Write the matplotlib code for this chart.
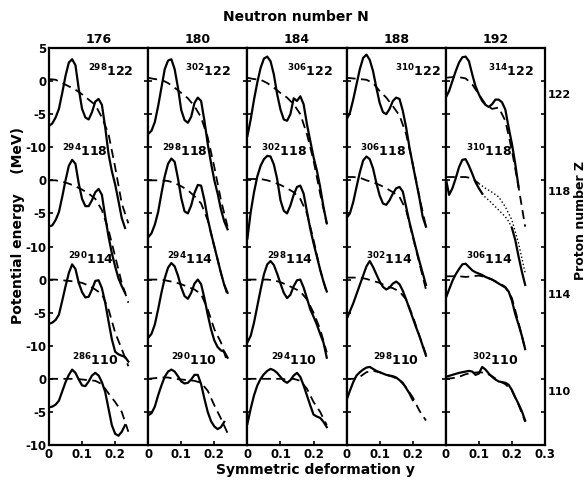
"""
Potential energy vs symmetric deformation for superheavy nuclei,
grid of panels: columns = neutron number N, rows = proton number Z.
"""
import numpy as np
import matplotlib
matplotlib.use("Agg")
import matplotlib.pyplot as plt

nan = np.nan

# --- data ---
neutrons = [176, 180, 184, 188, 192]
protons = [122, 118, 114, 110]
row_offset = {122: 45, 118: 30, 114: 15, 110: 0}   # MeV shift of each row

gamma_fine = np.round(np.arange(0, 0.245, 0.01), 2)     # solid curves
gamma_coarse = np.round(np.arange(0, 0.245, 0.02), 2)   # dashed curves

solid_122 = [
    [-6.8, -6.4, -5.5, -4.2, -1.8, 0.8, 2.8, 3.3, 2.4, -1.2, -4.2, -5.5, -5.8, -4.7, -3.1, -2.7, -3.6, -7.0, -11.0, -13.6, -15.6, -18.1, -20.7, -22.2, nan],
    [-8.0, -7.5, -6.2, -3.8, -1.0, 1.8, 3.1, 3.3, 1.8, -1.0, -4.4, -5.9, -6.3, -5.4, -3.3, -2.5, -3.0, -6.0, -9.5, -12.4, -15.0, -17.0, -19.4, -21.2, -22.4],
    [-8.3, -5.8, -2.8, -0.2, 2.0, 3.4, 3.7, 3.0, 1.0, -2.0, -4.3, -5.8, -6.0, -5.0, -2.6, -3.0, -2.3, -3.5, -6.5, -9.0, -11.5, -13.5, -16.0, -19.0, -21.5],
    [-5.8, -4.8, -2.8, -0.5, 1.8, 3.5, 4.0, 3.2, 1.5, -1.0, -3.3, -4.7, -5.0, -4.2, -3.0, -2.5, -2.7, -4.5, -7.0, -10.0, -12.6, -15.1, -17.6, -20.5, -22.0],
    [-2.5, -1.5, 0.0, 1.5, 2.8, 3.6, 3.7, 3.0, 1.0, -0.8, -2.0, -3.0, -3.6, -3.9, -3.5, -2.8, -2.8, -3.2, -4.3, -7.0, -9.5, -12.5, -16.0, nan, nan],
]
dash_122 = [
    [0.3, 0.2, -0.3, -0.8, -1.3, -2.0, -2.8, -3.6, -5.5, -8.0, -13.0, -18.5, -21.5],
    [0.5, 0.3, 0.2, -0.3, -1.0, -1.8, -2.6, -3.8, -5.5, -8.5, -13.0, -18.0, -22.0],
    [0.5, 0.3, 0.2, -0.3, -1.0, -1.8, -2.5, -3.5, -5.0, -8.0, -12.0, -17.0, -21.5],
    [0.5, 0.4, 0.3, 0.2, -0.3, -1.5, -2.5, -3.8, -5.2, -8.0, -12.5, -17.5, -22.0],
    [0.5, 0.6, 0.6, 0.4, -0.5, -2.0, -3.5, -4.2, -4.0, -6.0, -10.5, -16.0, -22.0],
]

solid_118 = [
    [-7.0, -6.8, -6.0, -4.8, -2.5, 0.0, 2.2, 3.1, 2.5, -0.5, -2.8, -3.9, -3.9, -3.0, -1.8, -1.3, -2.2, -5.5, -8.5, -11.0, -13.0, -14.8, -16.0, -17.0, nan],
    [-8.6, -8.0, -6.7, -4.8, -2.0, 0.6, 2.5, 3.3, 2.8, 0.3, -2.7, -4.7, -5.0, -3.8, -1.9, -0.7, -0.8, -3.0, -5.8, -8.0, -10.0, -12.0, -14.0, -15.8, -17.0],
    [-8.8, -4.8, -1.8, 0.6, 2.2, 3.2, 3.7, 3.6, 2.4, 0.2, -3.0, -4.6, -5.0, -3.8, -2.2, -1.0, -0.8, -2.0, -4.7, -7.3, -9.5, -11.5, -13.5, -15.3, -16.8],
    [-5.7, -5.0, -3.3, -1.0, 1.2, 3.0, 3.6, 3.2, 1.8, -0.4, -2.3, -3.5, -3.7, -3.0, -2.0, -1.2, -1.0, -1.7, -4.0, -6.3, -8.3, -10.3, -12.2, -14.0, -15.8],
    [0.3, -2.2, -1.2, 0.3, 2.0, 3.1, 3.2, 2.2, 1.0, -0.3, -1.2, -2.0, -2.6, -3.0, -3.5, -4.0, -4.5, -5.0, -5.5, -6.2, -7.2, -9.0, -11.5, -13.8, -15.8],
]
dash_118 = [
    [0.0, 0.0, -0.2, -0.5, -0.9, -1.4, -2.0, -2.8, -4.5, -7.5, -11.5, -15.5, -18.5],
    [0.0, 0.0, 0.0, -0.1, -0.4, -0.9, -1.5, -2.4, -3.5, -6.0, -10.0, -14.0, -17.5],
    [0.2, 0.2, 0.2, 0.0, -0.3, -0.7, -1.2, -1.8, -2.8, -5.0, -9.0, -13.5, -17.0],
    [0.5, 0.5, 0.4, 0.0, -0.3, -0.7, -1.2, -1.8, -2.5, -4.5, -8.5, -12.5, -16.5],
    [0.5, 0.5, 0.5, 0.5, 0.3, -0.5, -1.2, -1.8, -2.5, -4.0, -6.0, -9.5, -14.0],
]

solid_114 = [
    [-6.7, -6.5, -6.1, -5.3, -3.2, -1.0, 1.0, 2.3, 1.6, -0.5, -1.9, -2.7, -2.6, -1.5, -0.2, -0.1, -1.3, -3.5, -6.3, -9.0, -10.9, -11.3, -11.5, -11.7, -12.4],
    [-8.8, -8.2, -6.8, -4.5, -2.0, 0.2, 1.8, 2.5, 2.0, 0.6, -1.2, -2.5, -2.9, -2.0, -0.6, 0.0, -0.7, -2.8, -5.3, -7.5, -9.2, -10.2, -10.7, -10.9, -11.8],
    [-9.5, -8.5, -6.5, -4.0, -1.5, 0.8, 2.3, 2.8, 2.2, 0.9, -0.6, -2.0, -2.8, -2.3, -1.0, -0.1, 0.0, -1.2, -2.8, -4.5, -5.6, -6.8, -8.2, -9.5, -11.8],
    [-6.0, -4.8, -3.6, -2.2, -0.8, 0.6, 2.0, 2.8, 1.9, 0.8, -0.3, -1.1, -1.5, -1.2, -0.6, -0.3, -0.7, -1.7, -3.0, -4.4, -5.8, -7.2, -8.5, -10.0, -11.5],
    [-2.8, -1.5, -0.2, 0.8, 1.6, 2.3, 2.4, 1.9, 1.4, 1.1, 0.9, 0.7, 0.4, 0.2, 0.0, -0.3, -0.6, -0.9, -1.2, -1.8, -3.2, -5.2, -6.8, -8.5, -10.5],
]
dash_114 = [
    [0.0, 0.0, -0.1, -0.2, -0.3, -0.5, -0.9, -1.5, -2.2, -4.5, -8.0, -10.5, -13.1],
    [0.0, 0.0, 0.0, -0.2, -0.4, -0.7, -1.1, -1.5, -2.2, -4.5, -7.5, -9.5, -12.6],
    [0.0, 0.0, 0.0, 0.0, -0.1, -0.4, -0.8, -1.3, -1.8, -3.0, -5.0, -7.5, -11.0],
    [0.3, 0.3, 0.3, 0.1, -0.2, -0.5, -1.0, -1.3, -1.8, -3.0, -5.5, -8.5, -11.3],
    [0.5, 0.5, 0.5, 0.4, 0.5, 0.6, 0.4, 0.0, -0.5, -1.1, -2.8, -6.5, -10.5],
]

solid_110 = [
    [-4.3, -4.2, -3.9, -3.3, -1.9, -0.5, 0.6, 1.4, 0.9, -0.1, -1.0, -1.1, -0.4, 0.5, 0.9, 0.5, -0.5, -2.0, -4.5, -7.0, -8.3, -8.6, -8.0, -7.0, nan],
    [-5.5, -5.2, -4.2, -2.5, -1.0, 0.3, 1.1, 1.4, 1.1, 0.4, -0.4, -0.7, -0.6, -0.1, 0.6, 0.6, -0.8, -3.0, -5.0, -6.4, -7.2, -7.6, -7.3, -6.5, nan],
    [-6.8, -4.5, -2.5, -1.0, 0.0, 0.7, 1.2, 1.5, 1.3, 0.9, 0.3, -0.3, -0.6, -0.2, 0.5, 0.9, 0.3, -1.0, -2.5, -4.0, -5.4, -5.7, -5.9, -6.5, -7.3],
    [-3.2, -1.8, -0.5, 0.5, 1.0, 1.4, 1.7, 1.8, 1.5, 1.2, 1.0, 0.8, 0.6, 0.5, 0.4, 0.2, -0.2, -0.6, -1.4, -2.2, -3.2, nan, nan, nan, nan],
    [0.3, 0.45, 0.6, 0.75, 0.9, 1.0, 1.1, 1.2, 1.1, 0.6, 0.8, 1.8, 1.4, 0.8, 0.3, -0.1, -0.4, -0.5, -0.6, -0.9, -1.7, -2.8, -3.8, -4.9, -6.3],
]
dash_110 = [
    [0.0, 0.0, 0.0, 0.0, 0.0, -0.1, -0.2, -0.3, -0.8, -2.2, -3.5, -5.0, -8.0],
    [0.0, 0.1, 0.2, 0.2, 0.0, -0.1, -0.2, -0.3, -0.6, -1.8, -4.0, -6.0, -8.2],
    [0.0, 0.0, 0.0, 0.0, 0.0, 0.0, -0.1, 0.0, -0.3, -1.5, -3.5, -5.0, -7.0],
    [0.0, 0.0, 0.3, 1.0, 1.2, 1.0, 0.6, 0.3, -0.2, -1.3, -2.8, -4.8, -6.3],
    [0.0, 0.1, 0.3, 0.7, 0.9, 1.0, 0.9, 0.4, -0.3, -0.8, -1.8, -3.9, -6.5],
]

solid = {122: solid_122, 118: solid_118, 114: solid_114, 110: solid_110}
dashed = {122: dash_122, 118: dash_118, 114: dash_114, 110: dash_110}

# nucleus label anchors (gamma, energy of baseline) per row, per column
label_x = {122: [0.118, 0.112, 0.121, 0.145, 0.127],
           118: [0.040, 0.042, 0.042, 0.040, 0.060],
           114: [0.058, 0.057, 0.060, 0.058, 0.060],
           110: [0.070, 0.070, 0.070, 0.080, 0.080]}
label_e = {122: 0.7, 118: 3.7, 114: 2.3, 110: 2.0}

ytick_pos = [50, 45, 40, 35, 30, 25, 20, 15, 10, 5, 0, -5, -10]
ytick_lab = ["5", "0", "-5", "-10", "0", "-5", "-10", "0", "-5", "-10", "0", "-5", "-10"]
z_label_pos = [42.9, 28.3, 12.7, -2.0]

# --- figure ---
W, H = 585, 482
fig, axes = plt.subplots(1, 5, figsize=(W / 100, H / 100), dpi=100, sharey=True)
fig.subplots_adjust(left=49 / W, right=545 / W, top=1 - 48 / H, bottom=1 - 445 / H, wspace=0)

bold = dict(fontweight="bold", color="black")

for c, ax in enumerate(axes):
    for z in protons:
        off = row_offset[z]
        ys = np.array(solid[z][c]) + off
        yd = np.array(dashed[z][c]) + off
        if z == 118 and c == 4:
            # faint, broken-up stretch in the scan
            ax.plot(gamma_fine[:12], ys[:12], color="k", lw=1.6)
            ax.plot(gamma_fine[11:21], ys[11:21], color="k", lw=1.0, ls=":")
            ax.plot(gamma_fine[20:], ys[20:], color="k", lw=1.6)
            ax.plot(gamma_coarse[:6], yd[:6], color="k", lw=1.3, dashes=(5, 3))
            ax.plot(gamma_coarse[5:], yd[5:], color="k", lw=1.0, ls=":")
        else:
            ax.plot(gamma_fine, ys, color="k", lw=1.6)
            ax.plot(gamma_coarse, yd, color="k", lw=1.3, dashes=(5, 3))
        a = z + neutrons[c]
        ax.text(label_x[z][c], label_e[z] + off,
                r"$^{\mathbf{%d}}\mathbf{%d}$" % (a, z),
                ha="left", va="baseline", fontsize=9)

    ax.set_xlim(0, 0.3)
    ax.set_ylim(-10, 50)
    if c == 4:
        ax.set_xticks([0, 0.1, 0.2, 0.3])
        ax.set_xticklabels(["0", "0.1", "0.2", "0.3"])
    else:
        ax.set_xticks([0, 0.1, 0.2])
        ax.set_xticklabels(["0", "0.1", "0.2"])
    ax.set_yticks(ytick_pos)
    ax.tick_params(direction="in", length=3, width=1.2, right=True,
                   labelsize=8.5, pad=2)
    for lab in ax.get_xticklabels() + ax.get_yticklabels():
        lab.set_fontweight("bold")
    for sp in ax.spines.values():
        sp.set_linewidth(1.6)
    ax.text(0.5, 1.006, str(neutrons[c]), transform=ax.transAxes,
            ha="center", va="bottom", fontsize=9, **bold)

axes[0].set_yticklabels(ytick_lab)
for lab in axes[0].get_yticklabels():
    lab.set_fontweight("bold")
for ax in axes[1:]:
    ax.tick_params(labelleft=False)

last = axes[-1]
for z, yp in zip(protons, z_label_pos):
    last.text(1.03, yp, str(z), transform=last.get_yaxis_transform(),
              ha="left", va="center", fontsize=8, **bold)

fig.text(296 / W, 1 - 17 / H, "Neutron number N", ha="center", va="center", fontsize=10, **bold)
fig.text(315 / W, 1 - 470 / H, "Symmetric deformation y", ha="center", va="center", fontsize=10, **bold)
fig.text(18 / W, 1 - 225 / H, "Potential energy    (MeV)", rotation=90,
         ha="center", va="center", fontsize=10, **bold)
fig.text(580 / W, 1 - 220 / H, "Proton number Z", rotation=90,
         ha="center", va="center", fontsize=9, **bold)

fig.savefig("out.png", dpi=100)
